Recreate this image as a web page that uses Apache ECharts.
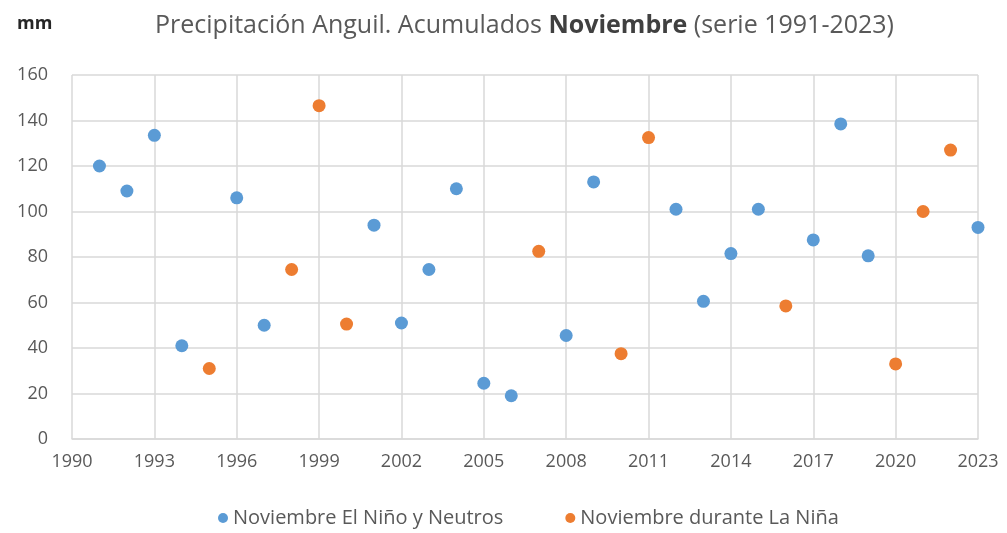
<!DOCTYPE html>
<html>
<head>
<meta charset="utf-8">
<script src="https://cdn.jsdelivr.net/npm/echarts@6/dist/echarts.min.js"></script>
<style>
	html, body { margin: 0; padding: 0; background: #fff; }
	#chart { width: 1007px; height: 533px; }
</style>
</head>
<body>
<div id="chart"></div>
<script>
// años y mm de noviembre
var ninoYears = [1991, 1992, 1993, 1994, 1996, 1997, 2001, 2002, 2003, 2004, 2005, 2006,
		2008, 2009, 2012, 2013, 2014, 2015, 2017, 2018, 2019, 2023];
var ninoValues = [120, 109, 133.5, 41, 106, 50, 94, 51, 74.5, 110, 24.5, 19,
		45.5, 113, 101, 60.5, 81.5, 101, 87.5, 138.5, 80.5, 93];
var ninaYears = [1995, 1998, 1999, 2000, 2007, 2010, 2011, 2016, 2020, 2021, 2022];
var ninaValues = [31, 74.5, 146.5, 50.5, 82.5, 37.5, 132.5, 58.5, 33, 100, 127];

var seriesNames = ['Noviembre El Niño y Neutros', 'Noviembre durante La Niña'];
var fontName = '"Open Sans", sans-serif';

function pairs(xs, ys) {
	return xs.map(function(x, i) { return [x, ys[i]]; });
}

var myChart = echarts.init(document.getElementById('chart'));
var option = {
	animation : false,
	textStyle : { fontFamily : fontName },
	title : [ {
		text : '{n|Precipitación Anguil. Acumulados }{b|Noviembre}{n| (serie 1991-2023)}',
		left : 150,
		top : 8,
		textStyle : {
			fontWeight : 'normal',
			rich : {
				n : { fontSize : 25, color : '#595959', fontWeight : 'normal', fontFamily : fontName },
				b : { fontSize : 25, color : '#404040', fontWeight : 'bold', fontFamily : fontName }
			}
		}
	}, {
		text : 'mm',
		left : 12,
		top : 10,
		textStyle : { fontSize : 18, fontWeight : 'bold', color : '#262626', fontFamily : fontName }
	} ],
	legend : {
		bottom : 0,
		left : 213,
		itemWidth : 10,
		itemHeight : 10,
		itemGap : 62,
		icon : 'circle',
		textStyle : { fontSize : 20, color : '#595959', fontFamily : fontName },
		data : seriesNames
	},
	grid : {
		left : 72,
		right : 29,
		top : 75,
		bottom : 94
	},
	xAxis : {
		type : 'value',
		min : 1990,
		max : 2023,
		interval : 3,
		axisLine : { lineStyle : { color : '#D9D9D9', width : 1.5 } },
		axisTick : { show : false },
		axisLabel : {
			fontSize : 18, color : '#595959', margin : 14,
			formatter : function(v) { return String(v); }
		},
		splitLine : { lineStyle : { color : '#D9D9D9', width : 1.5 } }
	},
	yAxis : {
		type : 'value',
		min : 0,
		max : 160,
		interval : 20,
		axisLine : { show : false },
		axisTick : { show : false },
		axisLabel : { fontSize : 18, color : '#595959', margin : 24 },
		splitLine : { lineStyle : { color : '#D9D9D9', width : 1.5 } }
	},
	series : [ {
		name : seriesNames[0],
		type : 'scatter',
		symbolSize : 13,
		itemStyle : { color : '#5B9BD5', opacity : 1 },
		data : pairs(ninoYears, ninoValues)
	}, {
		name : seriesNames[1],
		type : 'scatter',
		symbolSize : 13,
		itemStyle : { color : '#ED7D31', opacity : 1 },
		data : pairs(ninaYears, ninaValues)
	} ]
};
myChart.setOption(option);
</script>
</body>
</html>
